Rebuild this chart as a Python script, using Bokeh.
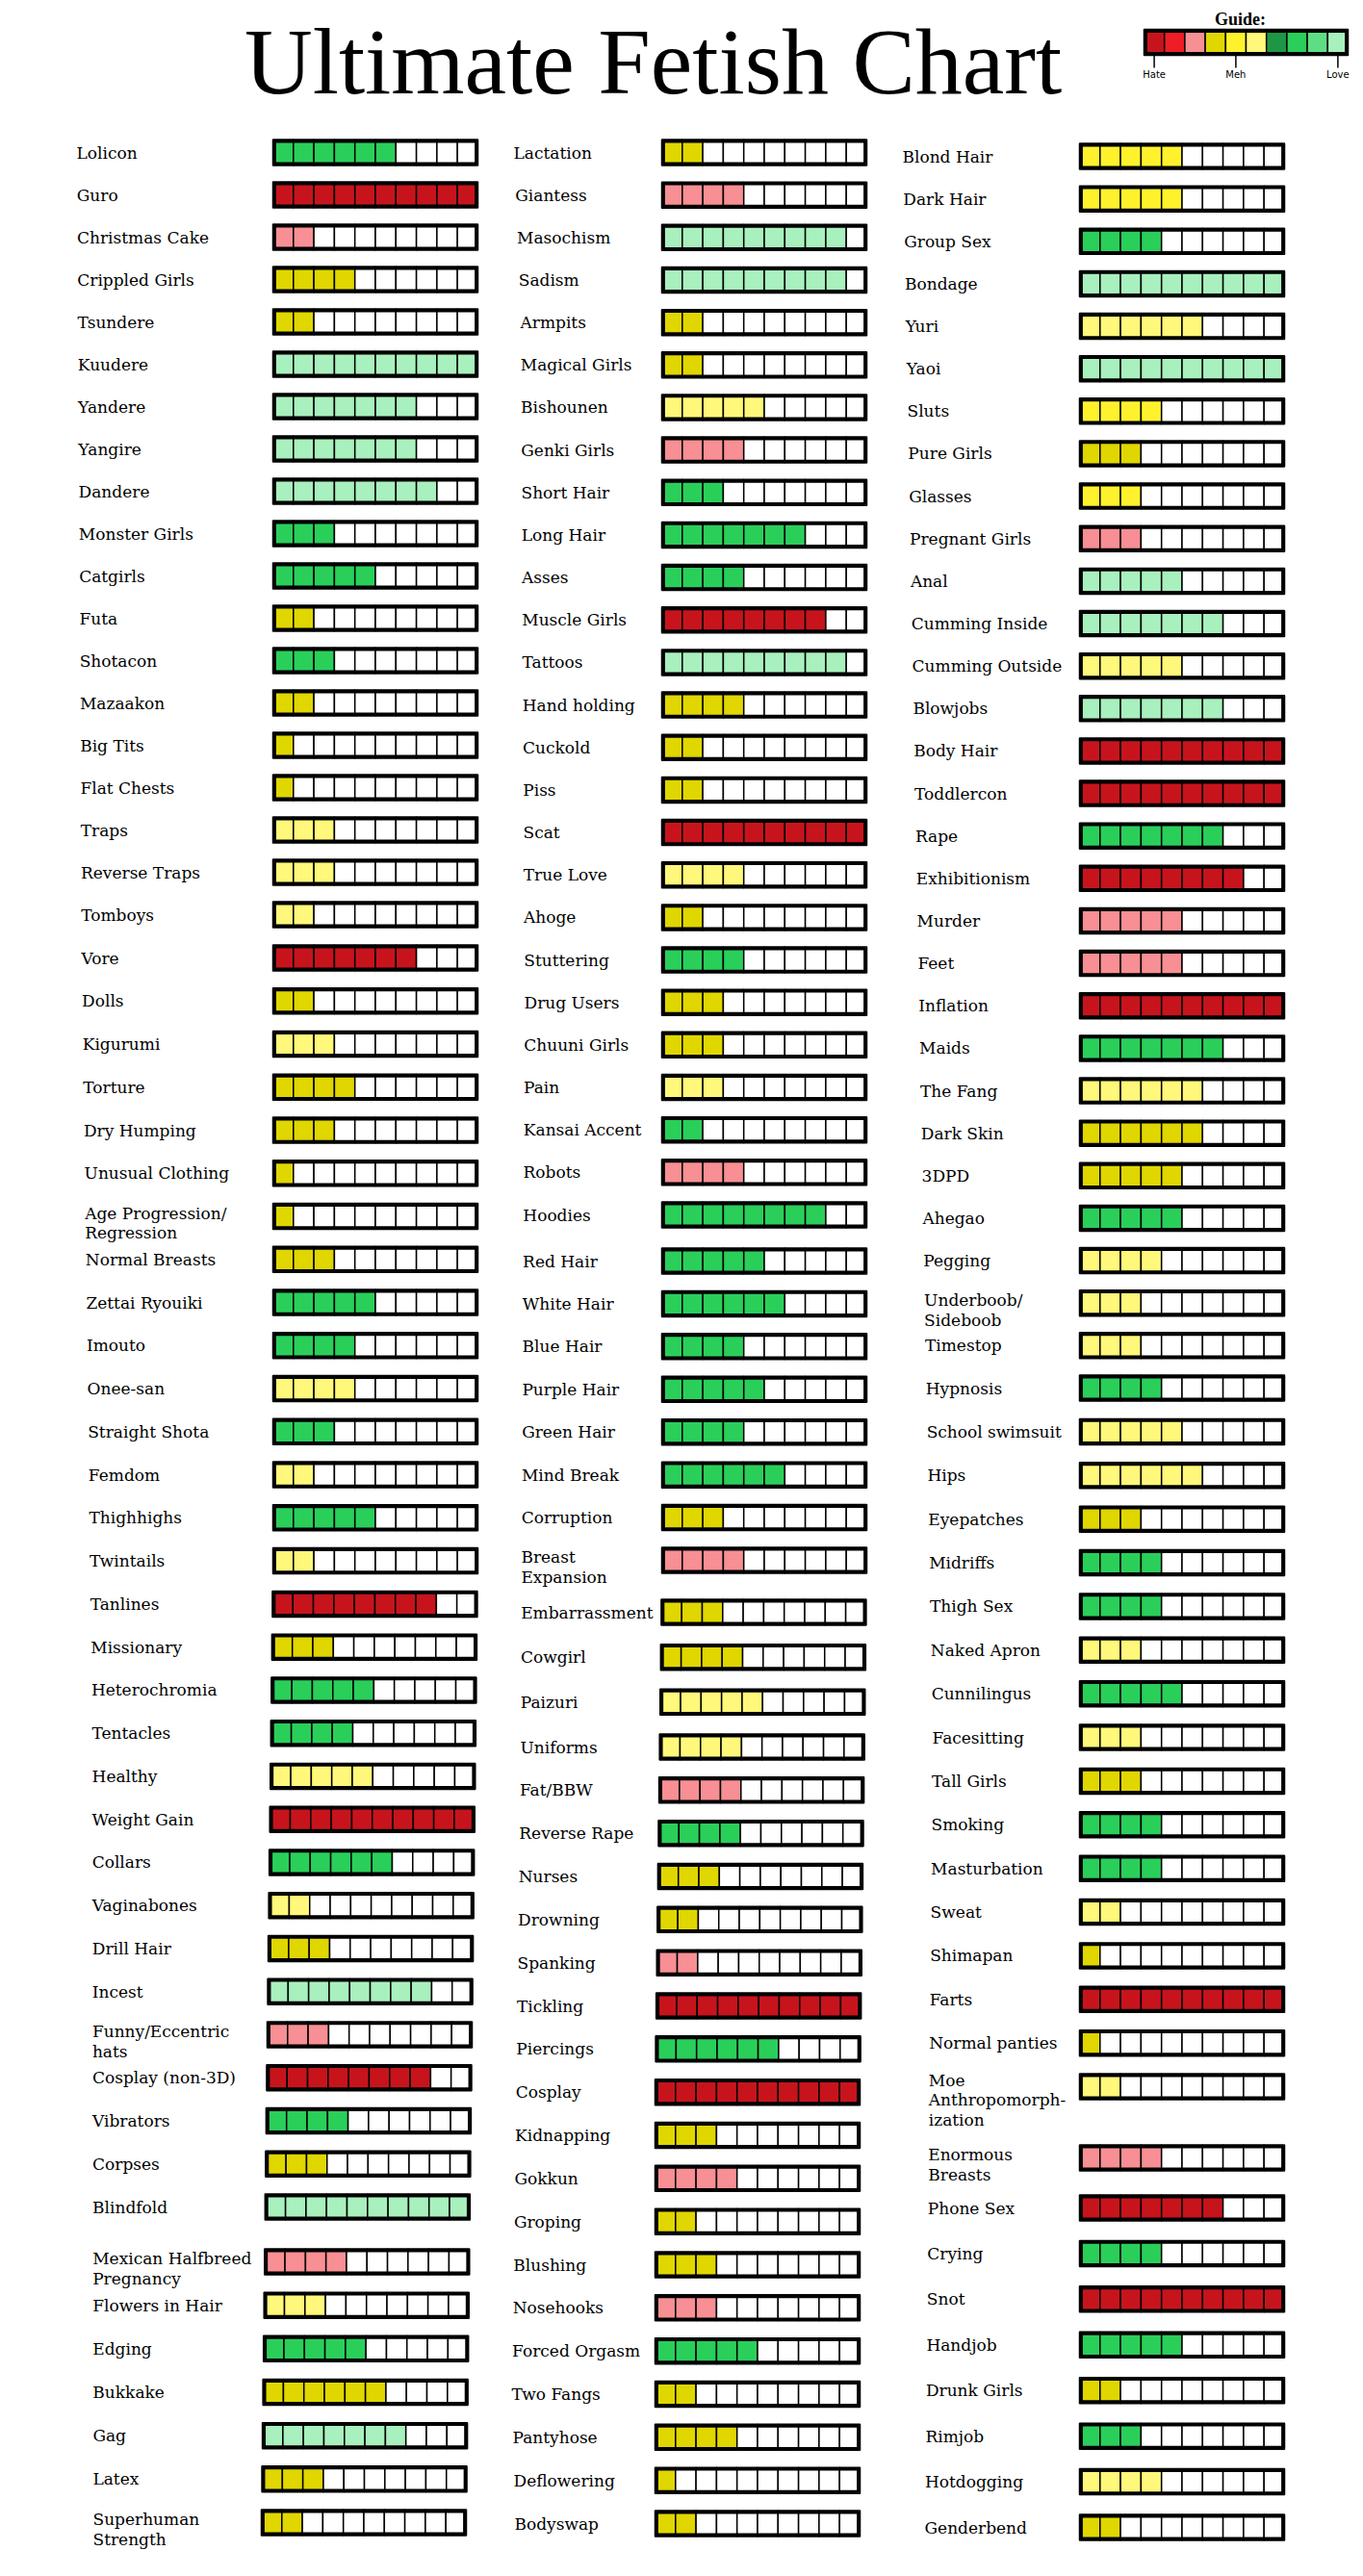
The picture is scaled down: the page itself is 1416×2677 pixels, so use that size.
import numpy as np
from bokeh.plotting import figure
from bokeh.models import Range1d, ColumnDataSource
from bokeh.embed import file_html
from bokeh.resources import INLINE
from bokeh.core.properties import value

# ---------------- data ----------------
TITLE = "Ultimate Fetish Chart"
GUIDE_TITLE = "Guide:"
# guide palette, index 0 (hate) .. 9 (love)
GUIDE_COLORS = ["#C7141C", "#EE1D26", "#F78F94", "#E0D600", "#FFF22C",
                "#FFF87A", "#1F9546", "#2ACF5A", "#5EDE84", "#A8F0BD"]
GUIDE_TICK_LABELS = ["Hate", "Meh", "Love"]
GUIDE_TICK_CELLS = [0, 4, 9]

# level codes refer to GUIDE_COLORS indices
DR, PK, DY, YE, LY, GR, LG = 0, 2, 3, 4, 5, 7, 9

col1_labels = ["Lolicon", "Guro", "Christmas Cake", "Crippled Girls", "Tsundere", "Kuudere",
               "Yandere", "Yangire", "Dandere", "Monster Girls", "Catgirls", "Futa", "Shotacon",
               "Mazaakon", "Big Tits", "Flat Chests", "Traps", "Reverse Traps", "Tomboys", "Vore",
               "Dolls", "Kigurumi", "Torture", "Dry Humping", "Unusual Clothing",
               "Age Progression/\nRegression", "Normal Breasts", "Zettai Ryouiki", "Imouto",
               "Onee-san", "Straight Shota", "Femdom", "Thighhighs", "Twintails", "Tanlines",
               "Missionary", "Heterochromia", "Tentacles", "Healthy", "Weight Gain", "Collars",
               "Vaginabones", "Drill Hair", "Incest", "Funny/Eccentric\nhats", "Cosplay (non-3D)",
               "Vibrators", "Corpses", "Blindfold", "Mexican Halfbreed\nPregnancy",
               "Flowers in Hair", "Edging", "Bukkake", "Gag", "Latex", "Superhuman\nStrength"]
col1_counts = [6, 10, 2, 4, 2, 10, 7, 7, 8, 3, 5, 2, 3, 2, 1, 1, 3, 3, 2, 7,
               2, 3, 4, 3, 1, 1, 3, 5, 4, 4, 3, 2, 5, 2, 8, 3, 5, 4, 5, 10,
               6, 2, 3, 8, 3, 8, 4, 3, 10, 4, 3, 5, 6, 7, 3, 2]
col1_levels = [GR, DR, PK, DY, DY, LG, LG, LG, LG, GR, GR, DY, GR, DY, DY, DY, LY, LY, LY, DR,
               DY, LY, DY, DY, DY, DY, DY, GR, GR, LY, GR, LY, GR, LY, DR, DY, GR, GR, LY, DR,
               GR, LY, DY, LG, PK, DR, GR, DY, LG, PK, LY, GR, DY, LG, DY, DY]

col2_labels = ["Lactation", "Giantess", "Masochism", "Sadism", "Armpits", "Magical Girls",
               "Bishounen", "Genki Girls", "Short Hair", "Long Hair", "Asses", "Muscle Girls",
               "Tattoos", "Hand holding", "Cuckold", "Piss", "Scat", "True Love", "Ahoge",
               "Stuttering", "Drug Users", "Chuuni Girls", "Pain", "Kansai Accent", "Robots",
               "Hoodies", "Red Hair", "White Hair", "Blue Hair", "Purple Hair", "Green Hair",
               "Mind Break", "Corruption", "Breast\nExpansion", "Embarrassment", "Cowgirl",
               "Paizuri", "Uniforms", "Fat/BBW", "Reverse Rape", "Nurses", "Drowning",
               "Spanking", "Tickling", "Piercings", "Cosplay", "Kidnapping", "Gokkun",
               "Groping", "Blushing", "Nosehooks", "Forced Orgasm", "Two Fangs", "Pantyhose",
               "Deflowering", "Bodyswap"]
col2_counts = [2, 4, 9, 9, 2, 2, 5, 4, 3, 7, 4, 8, 9, 4, 2, 2, 10, 4, 2, 4,
               3, 3, 3, 2, 4, 8, 5, 6, 4, 5, 4, 6, 3, 4, 3, 4, 5, 4, 4, 4,
               3, 2, 2, 10, 6, 10, 3, 4, 2, 3, 3, 5, 2, 4, 1, 2]
col2_levels = [DY, PK, LG, LG, DY, DY, LY, PK, GR, GR, GR, DR, LG, DY, DY, DY, DR, LY, DY, GR,
               DY, DY, LY, GR, PK, GR, GR, GR, GR, GR, GR, GR, DY, PK, DY, DY, LY, LY, PK, GR,
               DY, DY, PK, DR, GR, DR, DY, PK, DY, DY, PK, GR, DY, DY, DY, DY]

col3_labels = ["Blond Hair", "Dark Hair", "Group Sex", "Bondage", "Yuri", "Yaoi", "Sluts",
               "Pure Girls", "Glasses", "Pregnant Girls", "Anal", "Cumming Inside",
               "Cumming Outside", "Blowjobs", "Body Hair", "Toddlercon", "Rape", "Exhibitionism",
               "Murder", "Feet", "Inflation", "Maids", "The Fang", "Dark Skin", "3DPD", "Ahegao",
               "Pegging", "Underboob/\nSideboob", "Timestop", "Hypnosis", "School swimsuit",
               "Hips", "Eyepatches", "Midriffs", "Thigh Sex", "Naked Apron", "Cunnilingus",
               "Facesitting", "Tall Girls", "Smoking", "Masturbation", "Sweat", "Shimapan",
               "Farts", "Normal panties", "Moe\nAnthropomorph-\nization", "Enormous\nBreasts",
               "Phone Sex", "Crying", "Snot", "Handjob", "Drunk Girls", "Rimjob", "Hotdogging",
               "Genderbend"]
col3_counts = [5, 5, 4, 10, 6, 10, 4, 3, 3, 3, 5, 7, 5, 7, 10, 10, 7, 8, 5, 5,
               10, 7, 6, 6, 5, 5, 4, 3, 3, 4, 5, 6, 3, 4, 4, 3, 5, 3, 3, 4,
               4, 2, 1, 10, 1, 2, 4, 7, 4, 10, 5, 2, 3, 4, 2]
col3_levels = [YE, YE, GR, LG, LY, LG, YE, DY, YE, PK, LG, LG, LY, LG, DR, DR, GR, DR, PK, PK,
               DR, GR, LY, DY, DY, GR, LY, LY, LY, GR, LY, LY, DY, GR, GR, LY, GR, LY, DY, GR,
               GR, LY, DY, DR, DY, LY, PK, DR, GR, DR, GR, DY, GR, LY, DY]

COLUMNS = [(col1_labels, col1_counts, col1_levels),
           (col2_labels, col2_counts, col2_levels),
           (col3_labels, col3_counts, col3_levels)]

# ---------------- layout (page pixels) ----------------
W, H = 1408, 2669
LAYOUT = [
    dict(bar_x=[(0, 283), (33, 283), (55, 271)],
         label_x=[(0, 79), (19, 84), (37, 95), (55, 96)],
         row_y=[(0, 158), (18, 950), (19, 995), (48, 2293), (49, 2350), (55, 2621)]),
    dict(bar_x=[(0, 687), (33, 687), (45, 680), (55, 680)],
         label_x=[(0, 533), (4, 540), (20, 544), (37, 540), (52, 531), (55, 534)],
         row_y=[(0, 158), (25, 1262), (26, 1310), (33, 1621), (34, 1675), (37, 1815), (55, 2622)]),
    dict(bar_x=[(0, 1121), (54, 1121)],
         label_x=[(0, 937), (37, 968), (54, 960)],
         row_y=[(0, 162), (29, 1442), (45, 2168), (46, 2242), (47, 2294), (54, 2626)]),
]
N_CELLS = 10
BAR_W = 213.0
BAR_H = 27.0
CELL_W = BAR_W / N_CELLS
OUTER_LW = 3.4
LABEL_FONT = "DejaVu Serif"
LABEL_SIZE = "17px"


def interp(anchors, idx):
    xs = [a[0] for a in anchors]
    ys = [a[1] for a in anchors]
    return np.interp(idx, xs, ys)


p = figure(width=W, height=H, output_backend="svg", toolbar_location=None,
           x_range=Range1d(0, W), y_range=Range1d(H, 0),
           min_border=0, outline_line_color=None, background_fill_color="white")
p.axis.visible = False
p.grid.visible = False

cells = dict(left=[], right=[], top=[], bottom=[], color=[])
boxes = dict(left=[], right=[], top=[], bottom=[])
labels = dict(x=[], y=[], text=[])

for (labs, counts, levels), lay in zip(COLUMNS, LAYOUT):
    n = len(labs)
    idx = np.arange(n)
    ys = interp(lay["row_y"], idx)
    bxs = interp(lay["bar_x"], idx)
    lxs = interp(lay["label_x"], idx)
    for i in range(n):
        y, bx = ys[i], bxs[i]
        for j in range(N_CELLS):
            cells["left"].append(bx + j * CELL_W)
            cells["right"].append(bx + (j + 1) * CELL_W)
            cells["top"].append(y - BAR_H / 2)
            cells["bottom"].append(y + BAR_H / 2)
            cells["color"].append(GUIDE_COLORS[levels[i]] if j < counts[i] else "white")
        inset = OUTER_LW / 2
        boxes["left"].append(bx + inset)
        boxes["right"].append(bx + BAR_W - inset)
        boxes["top"].append(y - BAR_H / 2 + inset)
        boxes["bottom"].append(y + BAR_H / 2 - inset)
        nlines = labs[i].count("\n") + 1
        labels["x"].append(lxs[i])
        labels["y"].append(y + (nlines - 1) * 7)
        labels["text"].append(labs[i])

p.quad(left="left", right="right", top="top", bottom="bottom", fill_color="color",
       line_color="black", line_width=1.5, source=ColumnDataSource(cells))
p.quad(left="left", right="right", top="top", bottom="bottom", fill_alpha=0,
       line_color="black", line_width=OUTER_LW, source=ColumnDataSource(boxes))
p.text(x="x", y="y", text="text", source=ColumnDataSource(labels),
       text_font=value(LABEL_FONT), text_font_size=LABEL_SIZE, text_color="black",
       text_align="left", text_baseline="middle", text_line_height=1.03)

# ---------------- title ----------------
p.text(x=[678], y=[63], text=[TITLE], text_font=value("Liberation Serif"),
       text_font_size="98px", text_align="center", text_baseline="middle",
       text_color="black")

# ---------------- guide ----------------
GX, GY0, GY1 = 1188.0, 30.0, 57.0
GW = 212.0
gcw = GW / len(GUIDE_COLORS)
gl = [GX + k * gcw for k in range(len(GUIDE_COLORS))]
p.quad(left=gl, right=[v + gcw for v in gl], top=[GY0] * len(gl), bottom=[GY1] * len(gl),
       fill_color=GUIDE_COLORS, line_color="black", line_width=1.5)
p.quad(left=[GX + 1.7], right=[GX + GW - 1.7], top=[GY0 + 1.7], bottom=[GY1 - 1.7],
       fill_alpha=0, line_color="black", line_width=3.4)
tick_x = [GX + (c + 0.5) * gcw for c in GUIDE_TICK_CELLS]
p.segment(x0=tick_x, x1=tick_x, y0=[GY1] * 3, y1=[GY1 + 13] * 3, line_color="black",
          line_width=1.5)
p.text(x=tick_x, y=[77] * 3, text=GUIDE_TICK_LABELS, text_font=value("DejaVu Sans"),
       text_font_size="10px", text_align="center", text_baseline="middle", text_color="black")
p.text(x=[1288], y=[19], text=[GUIDE_TITLE], text_font=value("Liberation Serif"),
       text_font_size="18px", text_font_style="bold", text_align="center",
       text_baseline="middle", text_color="black")

open("out.html", "w").write(file_html(p, INLINE))
